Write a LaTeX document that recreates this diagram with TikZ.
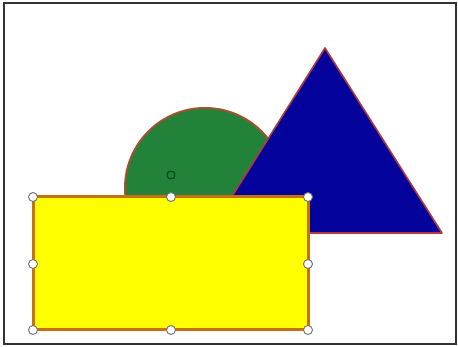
\documentclass[tikz,border=0pt]{standalone}
\usetikzlibrary{positioning, shapes.geometric}
\definecolor{frameGray}{HTML}{333333}
\definecolor{shapeGreen}{HTML}{23823A}
\definecolor{shapeBlue}{HTML}{03039C}
\definecolor{shapeYellow}{HTML}{FFFF00}
\definecolor{edgeBrown}{HTML}{A0522D}
\definecolor{edgeRed}{HTML}{B33A3A}
\definecolor{edgeOrange}{HTML}{C8700A}
\definecolor{handleGray}{HTML}{6E6E7A}
\definecolor{markGreen}{HTML}{0B4A1A}
\tikzset{
  frameBox/.style={draw=frameGray, line width=2.5pt, fill=white},
  discShape/.style={draw=edgeBrown, line width=2pt, fill=shapeGreen},
  triShape/.style={draw=edgeRed, line width=1.6pt, fill=shapeBlue, line join=round},
  rectShape/.style={draw=edgeOrange, line width=3pt, fill=shapeYellow},
  handle/.style={circle, draw=handleGray, fill=white, line width=0.9pt,
                 minimum size=9pt, inner sep=0pt},
  pivot/.style={rectangle, rounded corners=1.5pt, draw=markGreen, fill=shapeGreen,
                line width=1.2pt, minimum size=7pt, inner sep=0pt},
}
\begin{document}
\begin{tikzpicture}[x=1pt, y=-1pt]
  \useasboundingbox (0,0) rectangle (458,347);
  % window frame
  \draw[frameBox] (4,3) rectangle (456,344);
  % circle behind the triangle
  \coordinate (c) at (205,188);
  \draw[discShape] (c) circle (80);
  % triangle
  \coordinate (apex) at (325,48);
  \coordinate (baseL) at (209,233);
  \coordinate (baseR) at (442,233);
  \draw[triShape] (apex) -- (baseR) -- (baseL) -- cycle;
  % rectangle on top
  \coordinate (nw) at (33,197);
  \coordinate (se) at (308,330);
  \draw[rectShape] (nw) rectangle (se);
  % rotation marker
  \node[pivot] (rot) at (171,175) {};
  % selection handles
  \foreach \hx/\hy/\hn in {33/197/h1, 171/197/h2, 308/197/h3, 33/264/h4,
                            308/264/h5, 33/330/h6, 171/330/h7, 308/330/h8}
    \node[handle] (\hn) at (\hx,\hy) {};
\end{tikzpicture}
\end{document}
